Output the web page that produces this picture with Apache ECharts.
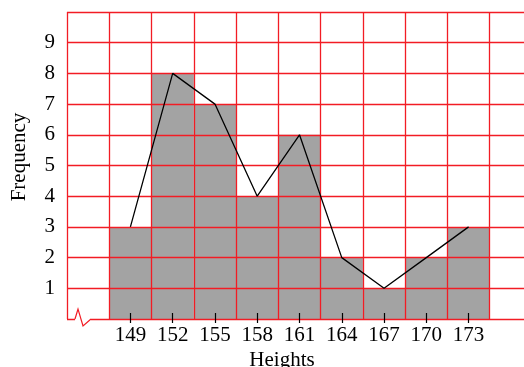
<!DOCTYPE html>
<html>
<head>
<meta charset="utf-8">
<script src="https://cdn.jsdelivr.net/npm/echarts@6/dist/echarts.min.js"></script>
<style>
    html, body { margin: 0; padding: 0; background: #fff; }
    #chart { width: 524px; height: 367px; }
</style>
</head>
<body>
<div id="chart"></div>
<script>
// histogram data, bins of width 3 centred on the class marks
const heights = [149, 152, 155, 158, 161, 164, 167, 170, 173]
const frequency = [3, 8, 7, 4, 6, 2, 1, 2, 3]
const binWidth = 3
const yTicks = [1, 2, 3, 4, 5, 6, 7, 8, 9]

const serif = "'Liberation Serif', 'DejaVu Serif', serif"
const red = '#f21c24'

const chart = echarts.init(document.getElementById('chart'))

const xMin = heights[0] - binWidth * 1.5
const xMax = heights[heights.length - 1] + binWidth * 1.5

let option = {
    animation: false,
    grid: { left: 67, top: 12, width: 465, bottom: 48, outerBoundsMode: 'none' },
    xAxis: [
        {
            type: 'value', min: xMin, max: xMax, interval: binWidth,
            axisLine: { show: false }, axisTick: { show: false }, axisLabel: { show: false },
            splitLine: { show: true, lineStyle: { color: red, width: 1.3 } }
        },
        {
            type: 'value', min: xMin, max: xMax, position: 'bottom',
            axisLine: { show: false }, splitLine: { show: false },
            axisTick: { show: true, customValues: heights, length: 4, lineStyle: { color: '#000', width: 1.2 } },
            axisLabel: { show: true, customValues: heights, margin: 6, color: '#000', fontFamily: serif, fontSize: 21 }
        },
        {
            type: 'value', min: xMin, max: xMax, position: 'bottom',
            axisLine: { show: false }, splitLine: { show: false }, axisLabel: { show: false },
            axisTick: { show: true, inside: true, customValues: heights, length: 6, lineStyle: { color: '#000', width: 1.2 } }
        }
    ],
    yAxis: {
        type: 'value', min: 0, max: 10, interval: 1,
        axisLine: { show: false }, axisTick: { show: false },
        axisLabel: {
            color: '#000', fontFamily: serif, fontSize: 21, margin: 12,
            formatter: v => yTicks.includes(v) ? String(v) : ''
        },
        splitLine: { show: true, lineStyle: { color: red, width: 1.3 } }
    },
    series: [
        {
            type: 'custom',
            z: -1,
            data: heights.map((h, i) => [h, frequency[i]]),
            renderItem: (params, api) => {
                const p0 = api.coord([api.value(0) - binWidth / 2, api.value(1)])
                const p1 = api.coord([api.value(0) + binWidth / 2, 0])
                return {
                    type: 'rect',
                    shape: { x: p0[0], y: p0[1], width: p1[0] - p0[0], height: p1[1] - p0[1] },
                    style: { fill: '#a3a3a3' }
                }
            }
        },
        {
            type: 'line',
            data: heights.map((h, i) => [h, frequency[i]]),
            showSymbol: false,
            lineStyle: { color: '#000', width: 1.3 },
            z: 5
        }
    ]
}
chart.setOption(option, true)

// axis break mark in the bottom left corner
const o = chart.convertToPixel({ xAxisIndex: 0, yAxisIndex: 0 }, [xMin, 0])
chart.setOption({
    graphic: [
        { type: 'rect', shape: { x: o[0] + 8, y: o[1] - 3, width: 16, height: 6 }, style: { fill: '#fff' }, z: 50 },
        {
            type: 'polyline', z: 51,
            shape: { points: [[o[0] + 8, o[1]], [o[0] + 11, o[1] - 10], [o[0] + 16, o[1] + 7], [o[0] + 24, o[1]]] },
            style: { stroke: red, lineWidth: 1.2, fill: null }
        },
        {
            type: 'text', x: 19, y: 157, rotation: Math.PI / 2,
            style: { text: 'Frequency', fontFamily: serif, fontSize: 21, fill: '#000', align: 'center', verticalAlign: 'middle' }
        },
        {
            type: 'text', x: 282, y: 350,
            style: { text: 'Heights', fontFamily: serif, fontSize: 21, fill: '#000', align: 'center', verticalAlign: 'top' }
        }
    ]
})
</script>
</body>
</html>
